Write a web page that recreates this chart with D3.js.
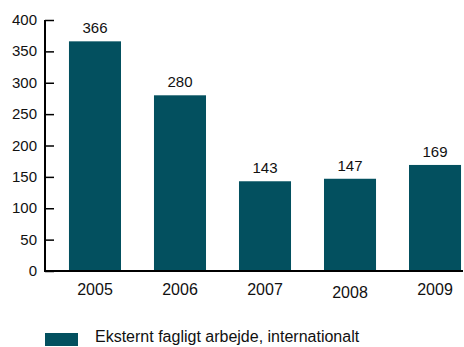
<!DOCTYPE html>
<html>
<head>
<meta charset="utf-8">
<script src="https://cdn.jsdelivr.net/npm/d3@7"></script>
<style>
  body { margin: 0; background: white; }
  svg text { font-family: "Liberation Sans", Arial, sans-serif; fill: #111; }
</style>
</head>
<body>
<div id="container"></div>
<script>
let w = 464;
let h = 347;

// data
let years = ["2005", "2006", "2007", "2008", "2009"];
let values = [366, 280, 143, 147, 169];
let yTicks = [0, 50, 100, 150, 200, 250, 300, 350, 400];
let seriesName = "Eksternt fagligt arbejde, internationalt";

let barColor = "#03505f";

let viz = d3.select("#container").append("svg")
    .attr("width", w)
    .attr("height", h)
    .style("display", "block");

let xScale = d3.scaleBand().domain(years).range([45, 485])
    .paddingInner(0.388).paddingOuter(0.282);
let yScale = d3.scaleLinear().domain([0, 400]).range([271, 20]);

// bars
viz.selectAll(".bar").data(values).enter()
  .append("rect")
    .attr("class", "bar")
    .attr("x", function(d, i){ return xScale(years[i]); })
    .attr("y", function(d){ return yScale(d); })
    .attr("width", xScale.bandwidth())
    .attr("height", function(d){ return yScale(0) - yScale(d); })
    .attr("fill", barColor);

// value labels
viz.selectAll(".val").data(values).enter()
  .append("text")
    .attr("x", function(d, i){ return xScale(years[i]) + xScale.bandwidth() / 2; })
    .attr("y", function(d){ return yScale(d) - 8; })
    .attr("text-anchor", "middle")
    .style("font-size", "15px")
    .text(function(d){ return d; });

// y axis
let yAxis = d3.axisRight(yScale).tickValues(yTicks).tickSize(9).tickFormat("");
let yg = viz.append("g").attr("transform", "translate(45,0)").call(yAxis);
yg.select(".domain").remove();
yg.selectAll("line").attr("stroke", "#000").attr("stroke-width", 1.5);
yg.append("line")
  .attr("x1", 0).attr("x2", 0)
  .attr("y1", yScale(400)).attr("y2", yScale(0) + 1)
  .attr("stroke", "#000").attr("stroke-width", 2);

viz.selectAll(".ylab").data(yTicks).enter()
  .append("text")
    .attr("x", 37)
    .attr("y", function(d){ return yScale(d) + 5; })
    .attr("text-anchor", "end")
    .style("font-size", "15px")
    .text(function(d){ return d; });

// x axis line
viz.append("line")
  .attr("x1", 44).attr("x2", 463)
  .attr("y1", yScale(0)).attr("y2", yScale(0))
  .attr("stroke", "#000").attr("stroke-width", 2);

// year labels (2008 sits a little lower in the original)
viz.selectAll(".xlab").data(years).enter()
  .append("text")
    .attr("x", function(d){ return xScale(d) + xScale.bandwidth() / 2; })
    .attr("y", function(d){ return d == "2008" ? 298 : 295; })
    .attr("text-anchor", "middle")
    .style("font-size", "16px")
    .text(function(d){ return d; });

// legend
viz.append("rect")
  .attr("x", 45).attr("y", 333)
  .attr("width", 33).attr("height", 13)
  .attr("fill", barColor);
viz.append("text")
  .attr("x", 95).attr("y", 342)
  .style("font-size", "16px")
  .text(seriesName);
</script>
</body>
</html>
